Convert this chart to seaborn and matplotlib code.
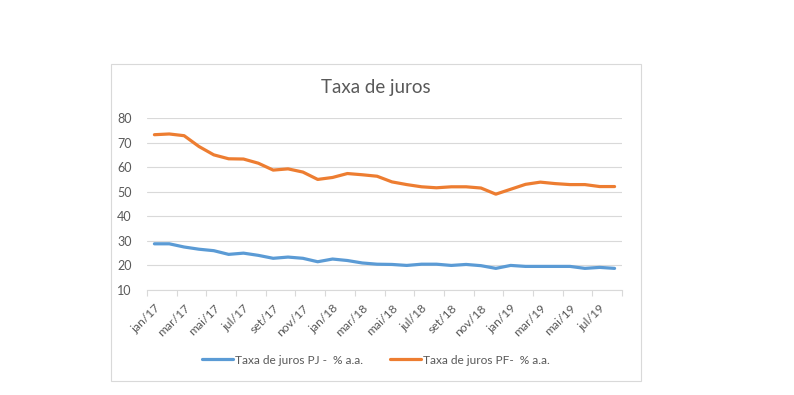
import pandas as pd
import seaborn as sns
import matplotlib.pyplot as plt
from matplotlib.patches import Rectangle

meses = ["jan", "fev", "mar", "abr", "mai", "jun", "jul", "ago", "set", "out", "nov", "dez"]
periodos = [f"{m}/{a}" for a in ["17", "18", "19"] for m in meses][:32]

taxa_pj = [28.8, 28.8, 27.5, 26.6, 26.0, 24.5, 25.0, 24.1, 22.9, 23.4, 22.9, 21.5,
           22.6, 22.0, 21.0, 20.5, 20.4, 20.0, 20.5, 20.5, 20.0, 20.4, 19.9, 18.8,
           20.0, 19.6, 19.6, 19.6, 19.6, 18.8, 19.2, 18.8]
taxa_pf = [73.2, 73.5, 72.8, 68.4, 65.0, 63.4, 63.3, 61.6, 58.8, 59.3, 58.0, 55.0,
           55.8, 57.4, 56.9, 56.3, 54.0, 52.9, 52.0, 51.6, 52.0, 52.0, 51.5, 49.0,
           51.0, 53.0, 53.9, 53.3, 52.9, 52.9, 52.1, 52.1]

serie_pj = "Taxa de juros PJ -  % a.a."
serie_pf = "Taxa de juros PF-  % a.a."

df = pd.DataFrame({
    "pos": list(range(len(periodos))) * 2,
    "valor": taxa_pj + taxa_pf,
    "serie": [serie_pj] * len(taxa_pj) + [serie_pf] * len(taxa_pf),
})

sns.set_style("white")
plt.rcParams["font.family"] = ["Lato", "DejaVu Sans"]
cinza = "#595959"

fig = plt.figure(figsize=(7.94, 3.95), dpi=100)
fig.patches.append(Rectangle((111 / 794, 1 - 381 / 395), 530 / 794, 317 / 395,
                             transform=fig.transFigure, fill=False,
                             edgecolor="#D9D9D9", linewidth=0.8))
ax = fig.add_axes([147 / 794, 1 - 290 / 395, 475 / 794, 172 / 395])

sns.lineplot(data=df, x="pos", y="valor", hue="serie",
             palette={serie_pj: "#5B9BD5", serie_pf: "#ED7D31"},
             linewidth=2.3, ax=ax)

ax.set_xlim(-0.5, len(periodos) - 0.5)
ax.set_ylim(10, 80)
ax.set_yticks(range(10, 81, 10))
ax.grid(axis="y", color="#D9D9D9", linewidth=0.8)
ax.set_axisbelow(True)
for s in ["top", "right", "left"]:
    ax.spines[s].set_visible(False)
ax.spines["bottom"].set_color("#D9D9D9")

ax.set_xticks(range(0, len(periodos), 2))
ax.set_xticklabels(periodos[::2], rotation=45, ha="right", rotation_mode="anchor")
ax.set_xticks([p - 0.5 for p in range(0, len(periodos) + 1, 2)], minor=True)
ax.tick_params(axis="x", which="major", length=0, pad=9, labelsize=8.7, labelcolor=cinza)
ax.tick_params(axis="x", which="minor", length=4, width=0.8, color="#D9D9D9", bottom=True)
ax.tick_params(axis="y", length=0, labelsize=9, labelcolor=cinza, pad=11)
ax.set_xlabel("")
ax.set_ylabel("")

fig.text(376 / 794, 1 - 88 / 395, "Taxa de juros", ha="center", va="center",
         fontsize=13.5, color=cinza)

ax.legend(loc="center", bbox_to_anchor=(376 / 794, 1 - 360 / 395),
          bbox_transform=fig.transFigure, ncol=2, frameon=False,
          fontsize=8.6, labelcolor=cinza, handlelength=2.6, handletextpad=0.2,
          columnspacing=2.2)

plt.savefig("out.png", dpi=100)
